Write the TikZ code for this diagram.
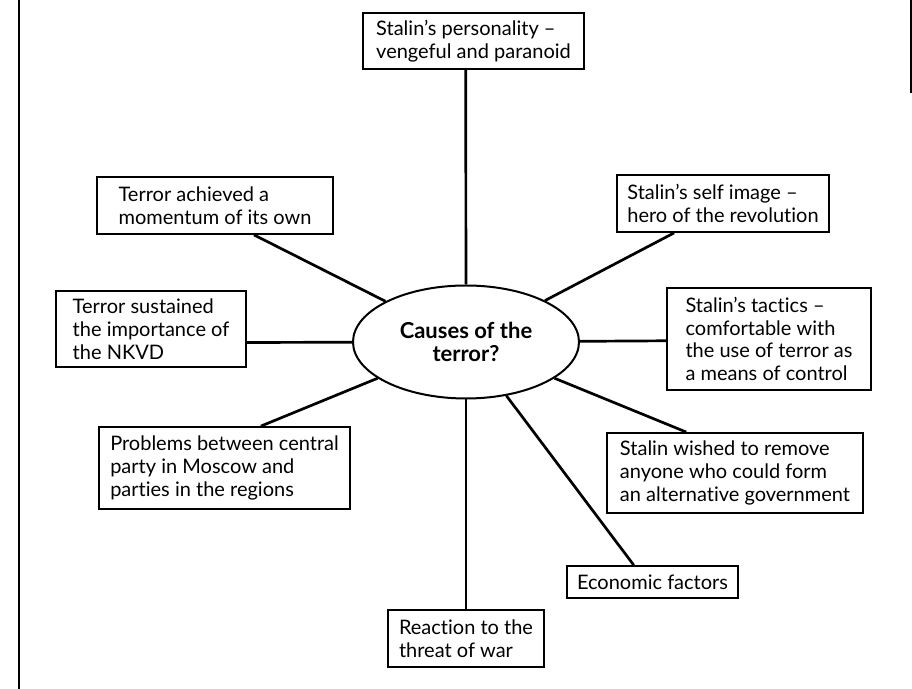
\documentclass[tikz,border=0pt]{standalone}
\usepackage{fontspec}
\setmainfont{Lato}[Ligatures=NoCommon]
\usepackage{tikz}
\usetikzlibrary{shapes.geometric}
\tikzstyle{cause} = [rectangle, draw, line width=0.9pt, fill=white, inner xsep=2pt, inner ysep=0pt, align=left, font=\fontsize{10}{11.4}\selectfont]
\tikzstyle{hub} = [ellipse, draw, line width=1pt, fill=white, inner sep=0pt, minimum width=113pt, minimum height=56.5pt, align=center, font=\fontsize{11}{11.6}\selectfont\bfseries]

\begin{document}
\begin{tikzpicture}[x=0.5pt,y=-0.5pt,line width=1.35pt]
  \useasboundingbox (0,0) rectangle (912,689);
  % page edges
  \draw[line width=1.1pt] (19,0) -- (19,689);
  \draw[line width=0.8pt] (911,0) -- (911,93);

  \node[hub] (Causes) at (466,342) {Causes of the\\terror?};

  \node[cause, minimum width=110.5pt, minimum height=28pt] (S_pers) at (473.5,41) {Stalin's personality --\\vengeful and paranoid};
  \node[cause, minimum width=118pt, minimum height=28.5pt] (T_mom) at (215,205.5) {Terror achieved a\\momentum of its own};
  \node[cause, minimum width=106pt, minimum height=28.5pt] (S_self) at (723,203.5) {Stalin's self image --\\hero of the revolution};
  \node[cause, minimum width=95pt, minimum height=38pt] (T_nkvd) at (151,329) {Terror sustained\\the importance of\\the NKVD};
  \node[cause, minimum width=102pt, minimum height=51pt] (S_tact) at (769,339) {Stalin's tactics --\\comfortable with\\the use of terror as\\a means of control};
  \node[cause, minimum width=125.5pt, minimum height=41pt] (P_reg) at (224.5,468) {Problems between central\\party in Moscow and\\parties in the regions};
  \node[cause, minimum width=128pt, minimum height=40pt] (S_rem) at (735,473) {Stalin wished to remove\\anyone who could form\\an alternative government};
  \node[cause, minimum width=85.5pt, minimum height=16pt] (Econ) at (652.5,582) {Economic factors};
  \node[cause, minimum width=78pt, minimum height=28.5pt] (War) at (466,638.5) {Reaction to the\\threat of war};

  \path (S_pers.-105) edge node {} (Causes);
  \path (T_mom.-37) edge node {} (Causes);
  \path (S_self.-149) edge node {} (Causes);
  \path (T_nkvd.-8) edge node {} (Causes);
  \path (S_tact.181) edge node {} (Causes);
  \path (P_reg.49) edge node {} (Causes);
  \path (S_rem.140) edge node {} (Causes);
  \path (Econ.138) edge node {} (Causes);
  \path (War.north) edge node {} (Causes);
\end{tikzpicture}
\end{document}
